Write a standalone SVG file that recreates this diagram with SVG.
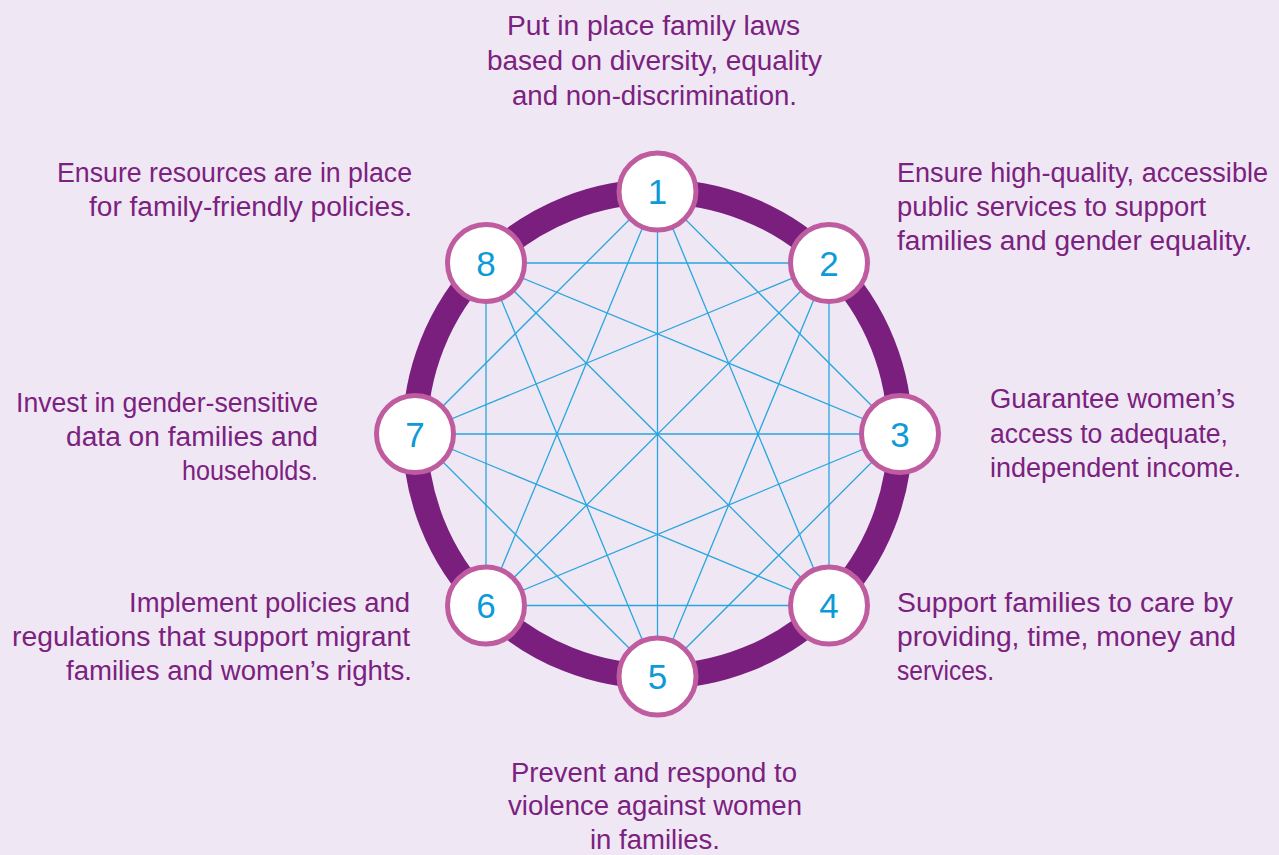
<svg xmlns="http://www.w3.org/2000/svg" width="1279" height="855" viewBox="0 0 1279 855">
<style>
.bg{fill:#f0e7f4}
.ring{fill:none;stroke:#7a1f7e;stroke-width:25}
.link{stroke:#27a6df;stroke-width:1.3;fill:none}
.node circle{fill:#ffffff;stroke:#bf5c9f;stroke-width:5}
.num{font-family:"Liberation Sans",Arial,sans-serif;font-size:35px;fill:#0d9ad8;text-anchor:middle}
.lbl{font-family:"Liberation Sans",Arial,sans-serif;font-size:27px;fill:#7b217f}
</style>
<rect class="bg" x="0" y="0" width="1279" height="855"/>
<circle class="ring" cx="657.5" cy="434" r="242.5"/>
<g id="connectors">
<line class="link" x1="657.5" y1="191.5" x2="900" y2="434"/>
<line class="link" x1="657.5" y1="191.5" x2="829" y2="605.5"/>
<line class="link" x1="657.5" y1="191.5" x2="657.5" y2="676.5"/>
<line class="link" x1="657.5" y1="191.5" x2="486" y2="605.5"/>
<line class="link" x1="657.5" y1="191.5" x2="415" y2="434"/>
<line class="link" x1="829" y1="263" x2="829" y2="605.5"/>
<line class="link" x1="829" y1="263" x2="657.5" y2="676.5"/>
<line class="link" x1="829" y1="263" x2="486" y2="605.5"/>
<line class="link" x1="829" y1="263" x2="415" y2="434"/>
<line class="link" x1="829" y1="263" x2="486" y2="263"/>
<line class="link" x1="900" y1="434" x2="657.5" y2="676.5"/>
<line class="link" x1="900" y1="434" x2="486" y2="605.5"/>
<line class="link" x1="900" y1="434" x2="415" y2="434"/>
<line class="link" x1="900" y1="434" x2="486" y2="263"/>
<line class="link" x1="829" y1="605.5" x2="486" y2="605.5"/>
<line class="link" x1="829" y1="605.5" x2="415" y2="434"/>
<line class="link" x1="829" y1="605.5" x2="486" y2="263"/>
<line class="link" x1="657.5" y1="676.5" x2="415" y2="434"/>
<line class="link" x1="657.5" y1="676.5" x2="486" y2="263"/>
<line class="link" x1="486" y1="605.5" x2="486" y2="263"/>
</g>
<g id="node1" class="node"><circle cx="657.5" cy="191.5" r="38.5"/><text class="num" x="657.5" y="204">1</text></g>
<g id="node2" class="node"><circle cx="829" cy="263" r="38.5"/><text class="num" x="829" y="275.5">2</text></g>
<g id="node3" class="node"><circle cx="900" cy="434" r="38.5"/><text class="num" x="900" y="446.5">3</text></g>
<g id="node4" class="node"><circle cx="829" cy="605.5" r="38.5"/><text class="num" x="829" y="618">4</text></g>
<g id="node5" class="node"><circle cx="657.5" cy="676.5" r="38.5"/><text class="num" x="657.5" y="689">5</text></g>
<g id="node6" class="node"><circle cx="486" cy="605.5" r="38.5"/><text class="num" x="486" y="618">6</text></g>
<g id="node7" class="node"><circle cx="415" cy="434" r="38.5"/><text class="num" x="415" y="446.5">7</text></g>
<g id="node8" class="node"><circle cx="486" cy="263" r="38.5"/><text class="num" x="486" y="275.5">8</text></g>
<g id="label1">
<text class="lbl" x="507" y="35" textLength="293" lengthAdjust="spacingAndGlyphs">Put in place family laws</text>
<text class="lbl" x="487" y="70" textLength="335" lengthAdjust="spacingAndGlyphs">based on diversity, equality</text>
<text class="lbl" x="512" y="105" textLength="285" lengthAdjust="spacingAndGlyphs">and non-discrimination.</text>
</g>
<g id="label2">
<text class="lbl" x="897" y="182" textLength="371" lengthAdjust="spacingAndGlyphs">Ensure high-quality, accessible</text>
<text class="lbl" x="897" y="216" textLength="309" lengthAdjust="spacingAndGlyphs">public services to support</text>
<text class="lbl" x="897" y="250" textLength="355" lengthAdjust="spacingAndGlyphs">families and gender equality.</text>
</g>
<g id="label3">
<text class="lbl" x="990" y="408" textLength="245" lengthAdjust="spacingAndGlyphs">Guarantee women’s</text>
<text class="lbl" x="990" y="443" textLength="238" lengthAdjust="spacingAndGlyphs">access to adequate,</text>
<text class="lbl" x="990" y="477" textLength="251" lengthAdjust="spacingAndGlyphs">independent income.</text>
</g>
<g id="label4">
<text class="lbl" x="897" y="612" textLength="336" lengthAdjust="spacingAndGlyphs">Support families to care by</text>
<text class="lbl" x="897" y="646" textLength="339" lengthAdjust="spacingAndGlyphs">providing, time, money and</text>
<text class="lbl" x="897" y="680" textLength="97" lengthAdjust="spacingAndGlyphs">services.</text>
</g>
<g id="label5">
<text class="lbl" x="511" y="782" textLength="286" lengthAdjust="spacingAndGlyphs">Prevent and respond to</text>
<text class="lbl" x="508" y="815" textLength="294" lengthAdjust="spacingAndGlyphs">violence against women</text>
<text class="lbl" x="590" y="849" textLength="130" lengthAdjust="spacingAndGlyphs">in families.</text>
</g>
<g id="label6">
<text class="lbl" x="129" y="612" textLength="281" lengthAdjust="spacingAndGlyphs">Implement policies and</text>
<text class="lbl" x="12" y="646" textLength="398" lengthAdjust="spacingAndGlyphs">regulations that support migrant</text>
<text class="lbl" x="66" y="680" textLength="346" lengthAdjust="spacingAndGlyphs">families and women’s rights.</text>
</g>
<g id="label7">
<text class="lbl" x="16" y="412" textLength="302" lengthAdjust="spacingAndGlyphs">Invest in gender-sensitive</text>
<text class="lbl" x="66" y="446" textLength="252" lengthAdjust="spacingAndGlyphs">data on families and</text>
<text class="lbl" x="182" y="480" textLength="136" lengthAdjust="spacingAndGlyphs">households.</text>
</g>
<g id="label8">
<text class="lbl" x="57" y="182" textLength="355" lengthAdjust="spacingAndGlyphs">Ensure resources are in place</text>
<text class="lbl" x="89" y="216" textLength="323" lengthAdjust="spacingAndGlyphs">for family-friendly policies.</text>
</g>
</svg>
